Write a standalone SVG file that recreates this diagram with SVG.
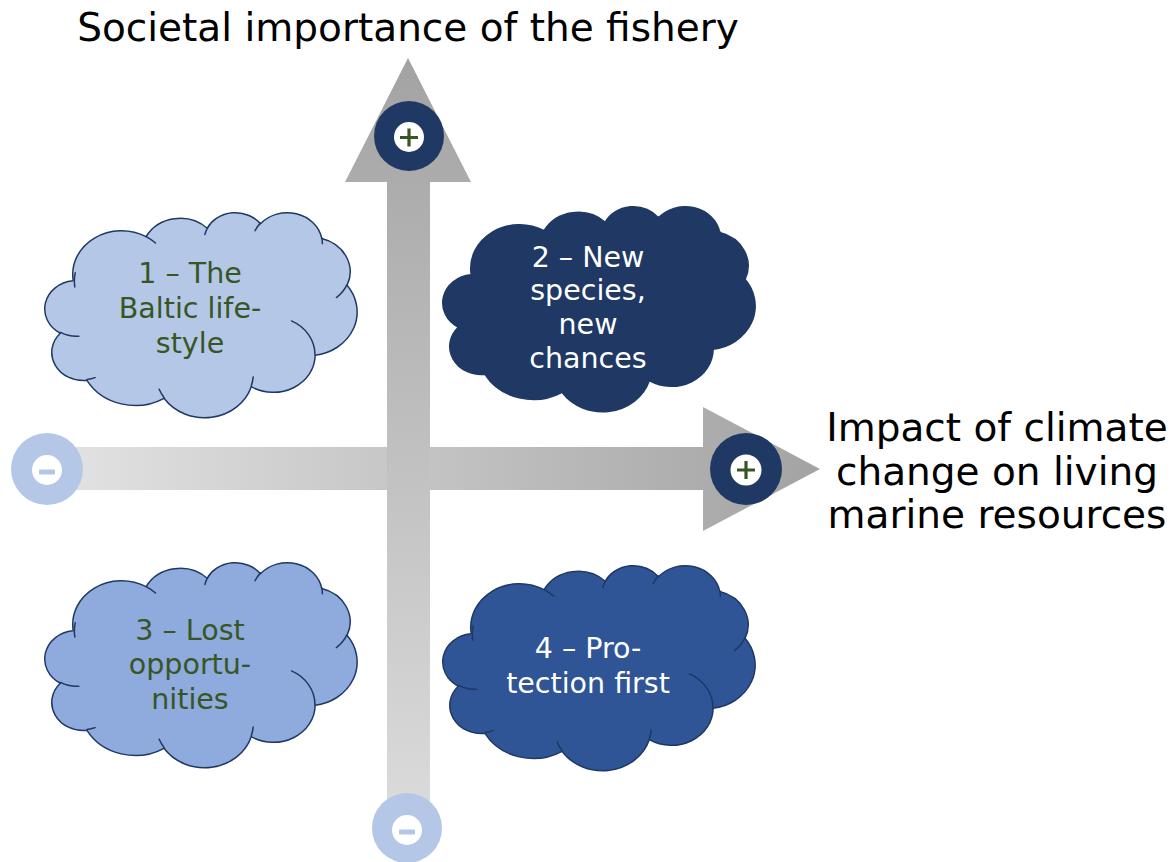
<svg xmlns="http://www.w3.org/2000/svg" xmlns:xlink="http://www.w3.org/1999/xlink" width="1176" height="862" viewBox="0 0 1176 862">
<style>
.axis-title{font-family:"DejaVu Sans","Verdana",sans-serif;font-size:39px;fill:#000;text-anchor:middle}
.ctext{font-family:"DejaVu Sans","Verdana",sans-serif;font-size:28.5px;text-anchor:middle}
.green{fill:#375623}
.white{fill:#ffffff}
.cloud{stroke:#1f3864;stroke-width:1.5;stroke-linejoin:round}
.inner{fill:none;stroke:#1f3864;stroke-width:1.5;stroke-linecap:round}
.plus{stroke:#375623;stroke-width:3.2;fill:none}
</style>
<defs>
<linearGradient id="gv" gradientUnits="userSpaceOnUse" x1="0" y1="58" x2="0" y2="830">
<stop offset="0" stop-color="#a3a3a3"/>
<stop offset="1" stop-color="#dcdcdc"/>
</linearGradient>
<linearGradient id="gh" gradientUnits="userSpaceOnUse" x1="40" y1="0" x2="820" y2="0">
<stop offset="0" stop-color="#e4e4e4"/>
<stop offset="1" stop-color="#a3a3a3"/>
</linearGradient>
<path id="cloudShape" d="M28.17 68.19 A48.77 43.61 0 0 1 101.15 24.69 A38.52 34.48 0 0 1 162.18 16.29 A31.53 28.21 0 0 1 215.46 11.77 A35.08 31.30 0 0 1 276.74 26.46 A38.52 34.51 0 0 1 302.02 73.36 A48.93 43.75 0 0 1 270.14 143.33 A41.78 37.33 0 0 1 206.24 174.69 A48.76 43.73 0 0 1 119.03 186.32 A55.76 50.03 0 0 1 41.93 168.32 A31.49 28.08 0 0 1 15.27 121.24 A31.38 28.21 0 0 1 27.91 68.83 Z"/>
<path id="cloudInner" d="M33.89 124.22 A31.38 28.21 0 0 1 15.60 120.44 M50.04 165.61 A31.49 28.08 0 0 1 42.03 167.42 M119.01 185.50 A48.76 43.73 0 0 1 114.18 177.24 M208.19 164.91 A48.76 43.73 0 0 1 206.27 173.97 M246.49 108.93 A41.78 37.33 0 0 1 269.97 142.79 M301.87 72.86 A38.52 34.51 0 0 1 291.42 85.56 M276.78 25.75 A35.08 31.30 0 0 1 277.34 31.75 M210.01 18.75 A35.08 31.30 0 0 1 215.36 11.11 M159.91 22.40 A31.53 28.21 0 0 1 162.50 15.80 M101.11 24.64 A48.77 43.61 0 0 1 110.50 31.04 M29.81 74.93 A48.77 43.61 0 0 1 30.24 60.80"/>
</defs>

<g id="connectors">
<polygon id="axis-x" fill="url(#gh)" points="46,447 703,447 703,407 820,469 703,531 703,490 46,490"/>
<polygon id="axis-y" fill="url(#gv)" points="408,58 471,182 430,182 430,828 387,828 387,182 345,182"/>
</g>

<g id="title-y">
<text class="axis-title" x="408" y="41">Societal importance of the fishery</text>
</g>
<g id="title-x">
<text class="axis-title" x="997" y="441">Impact of climate</text>
<text class="axis-title" x="997" y="485">change on living</text>
<text class="axis-title" x="997" y="528">marine resources</text>
</g>

<g id="cloud1">
<use href="#cloudShape" x="45" y="212" class="cloud" fill="#b4c7e7"/>
<use href="#cloudInner" x="45" y="212" class="inner"/>
<text class="ctext green" x="190" y="283">1 – The</text>
<text class="ctext green" x="190" y="318">Baltic life-</text>
<text class="ctext green" x="190" y="353">style</text>
</g>

<g id="cloud2">
<use href="#cloudShape" x="443" y="206" class="cloud" fill="#1f3864"/>
<use href="#cloudInner" x="443" y="206" class="inner"/>
<text class="ctext white" x="588" y="267">2 – New</text>
<text class="ctext white" x="588" y="300">species,</text>
<text class="ctext white" x="588" y="334">new</text>
<text class="ctext white" x="588" y="368">chances</text>
</g>

<g id="cloud3">
<use href="#cloudShape" x="45" y="562" class="cloud" fill="#8faadc"/>
<use href="#cloudInner" x="45" y="562" class="inner"/>
<text class="ctext green" x="190" y="640">3 – Lost</text>
<text class="ctext green" x="190" y="674">opportu-</text>
<text class="ctext green" x="190" y="709">nities</text>
</g>

<g id="cloud4">
<use href="#cloudShape" x="443" y="565" class="cloud" fill="#2f5597"/>
<use href="#cloudInner" x="443" y="565" class="inner"/>
<text class="ctext white" x="588" y="658">4 – Pro-</text>
<text class="ctext white" x="588" y="693">tection first</text>
</g>

<g id="plus-top">
<circle cx="409" cy="136" r="35" fill="#1f3864"/>
<circle cx="409" cy="137" r="15" fill="#ffffff"/>
<path class="plus" d="M400 137.5 H418 M409 128.5 V146.5"/>
</g>
<g id="plus-right">
<circle cx="746" cy="469" r="36" fill="#1f3864"/>
<circle cx="746" cy="470" r="15.5" fill="#ffffff"/>
<path class="plus" d="M737 470 H755 M746 461 V479"/>
</g>
<g id="minus-left">
<circle cx="47" cy="469" r="36" fill="#b4c7e7"/>
<circle cx="47" cy="470" r="15" fill="#ffffff"/>
<rect x="39" y="469.5" width="16" height="5" rx="1" fill="#b4c7e7"/>
</g>
<g id="minus-bottom">
<circle cx="407" cy="828" r="35" fill="#b4c7e7"/>
<circle cx="407" cy="830" r="15" fill="#ffffff"/>
<rect x="399" y="829.5" width="16" height="5" rx="1" fill="#b4c7e7"/>
</g>
</svg>
